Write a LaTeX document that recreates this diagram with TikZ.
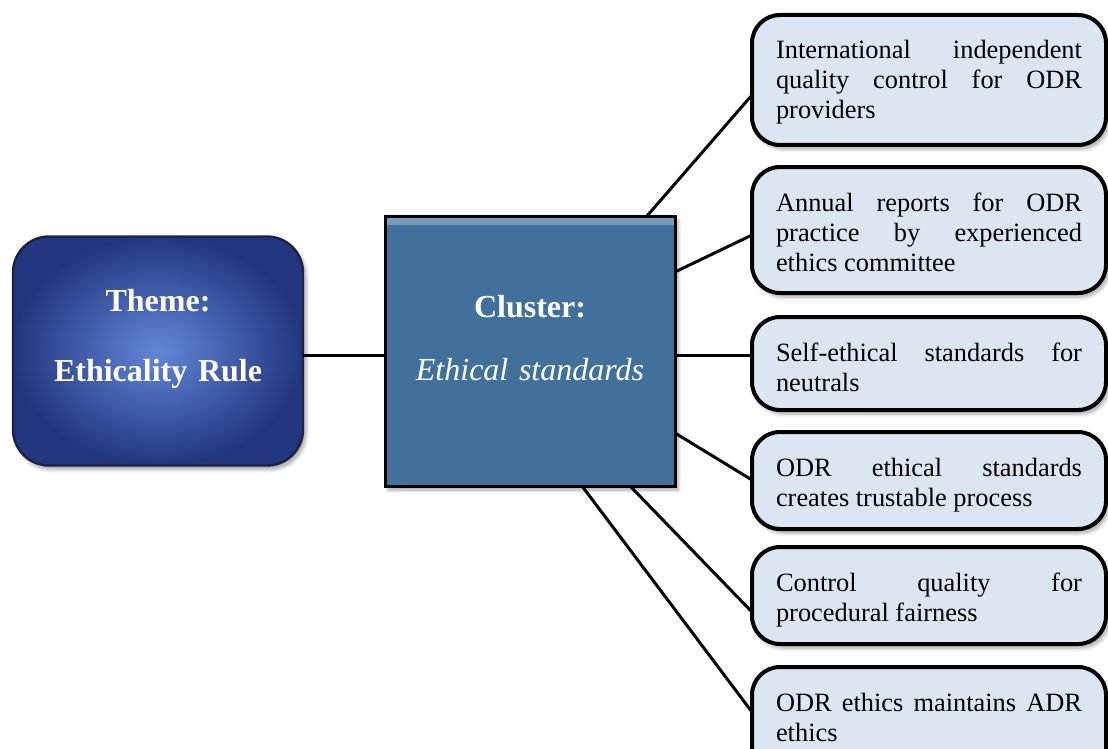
\documentclass[tikz,border=0pt]{standalone}
\usepackage{fontspec}
\setmainfont{Liberation Serif}
\usetikzlibrary{shadows.blur}
\definecolor{itemblue}{RGB}{220,230,242}
\definecolor{clusterblue}{RGB}{65,112,155}
\definecolor{themelight}{RGB}{98,134,214}
\definecolor{themedark}{RGB}{34,54,128}
\definecolor{themeline}{RGB}{26,34,70}
\tikzset{
	softshadow/.style={blur shadow={shadow xshift=1.5pt, shadow yshift=-2pt, shadow opacity=35, shadow blur steps=6}},
	themebox/.style={rectangle, rounded corners=18pt, draw=themeline, line width=1.2pt,
		shade, inner color=themelight, outer color=themedark, softshadow,
		anchor=north west, inner sep=0pt, outer sep=0pt, text width=145pt, align=center,
		text=white, font=\fontsize{16}{18}\selectfont\bfseries},
	clusterbox/.style={rectangle, draw=black, line width=1.5pt, fill=clusterblue, softshadow,
		path picture={\shade[top color=clusterblue!70!white, bottom color=clusterblue]
			(path picture bounding box.north west) rectangle ([yshift=-4pt]path picture bounding box.north east);},
		anchor=north west, inner sep=0pt, outer sep=0pt, text width=145pt, align=center,
		text=white, font=\fontsize{16}{18}\selectfont\bfseries},
	itembox/.style={rectangle, rounded corners=14pt, draw=black, line width=2pt, fill=itemblue, softshadow,
		anchor=north west, inner xsep=12pt, inner ysep=0pt, outer sep=0pt,
		text width=153pt, align=justify, text height=22pt,
		font=\fontsize{13.2}{15}\selectfont,
		execute at begin node={\tolerance=10000\relax\hbadness=10000\relax\hyphenpenalty=10000\relax}},
	link/.style={line width=1.5pt, black}
}

\begin{document}
\begin{tikzpicture}[x=0.5pt, y=-0.5pt]
	\useasboundingbox (0,0) rectangle (1108,749);
	\clip (0,0) rectangle (1108,749);

	% theme
	\node[themebox, text height=37.5pt, text depth=77pt] (theme) at (13,236.5)
		{Theme:\\[17pt]Ethicality Rule};

	% cluster
	\node[clusterbox, text height=50.5pt, text depth=84.5pt] (cluster) at (385,216)
		{Cluster:\\[13.5pt]{\mdseries\itshape Ethical standards}};

	% items
	\node[itembox, text depth=43pt] (b1) at (752,15)
		{International independent\linebreak quality control for ODR\linebreak providers};
	\node[itembox, text depth=41pt] (b2) at (752,167)
		{Annual reports for ODR\linebreak practice by experienced\linebreak ethics committee};
	\node[itembox, text depth=24.5pt] (b3) at (752,317)
		{Self-ethical standards for\linebreak neutrals};
	\node[itembox, text depth=26.5pt] (b4) at (752,432)
		{ODR ethical standards\linebreak creates trustable process};
	\node[itembox, text depth=26.5pt] (b5) at (752,547)
		{Control quality for\linebreak procedural fairness};
	\node[itembox, text depth=45pt] (b6) at (752,667)
		{ODR ethics maintains ADR\linebreak ethics};

	% links
	\draw[link] ([yshift=-2pt]theme.east) -- ([yshift=-2pt]cluster.west);
	\draw[link] ([xshift=-14pt]cluster.north east) -- ([yshift=-40pt]b1.north west);
	\draw[link] ([yshift=-28pt]cluster.north east) -- ([yshift=-34pt]b2.north west);
	\draw[link] ([yshift=-2pt]cluster.east) -- ([yshift=-19pt]b3.north west);
	\draw[link] ([yshift=26.5pt]cluster.south east) -- ([yshift=-24pt]b4.north west);
	\draw[link] ([xshift=-22.5pt]cluster.south east) -- ([yshift=-32.5pt]b5.north west);
	\draw[link] ([xshift=-46.5pt]cluster.south east) -- ([yshift=-22.5pt]b6.north west);
\end{tikzpicture}
\end{document}
